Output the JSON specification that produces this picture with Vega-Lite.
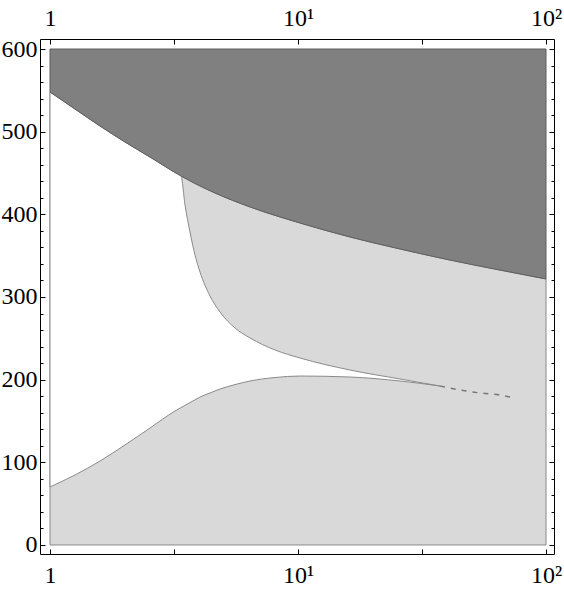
{
  "$schema": "https://vega.github.io/schema/vega-lite/v6.json",
  "width": 514,
  "height": 515,
  "autosize": "none",
  "padding": {"left": 40, "top": 39, "right": 10, "bottom": 41},
  "background": "white",
  "config": {
    "view": {"stroke": "black", "strokeWidth": 1},
    "axis": {
      "domain": false,
      "grid": false,
      "tickColor": "black",
      "tickWidth": 1,
      "tickSize": -5,
      "labelFont": "Liberation Serif",
      "labelFontSize": 24,
      "labelColor": "black",
      "labelFlush": false,
      "labelOverlap": false,
      "labelBound": false,
      "title": null
    }
  },
  "datasets": {
    "dark": [
      {"x": 1, "y": 548.0},
      {"x": 1.261, "y": 527.4},
      {"x": 1.591, "y": 506.8},
      {"x": 2.006, "y": 487.5},
      {"x": 2.53, "y": 469.3},
      {"x": 3.376, "y": 446.3},
      {"x": 4.627, "y": 425.8},
      {"x": 6.408, "y": 408.9},
      {"x": 10.19, "y": 389.5},
      {"x": 16.19, "y": 372.6},
      {"x": 25.76, "y": 358.1},
      {"x": 40.98, "y": 344.7},
      {"x": 65.19, "y": 332.6},
      {"x": 100, "y": 321.8}
    ],
    "white": [
      {"x": 1, "lo": 70.2, "hi": 548.0},
      {"x": 1.261, "lo": 84.7, "hi": 527.4},
      {"x": 1.591, "lo": 101.6, "hi": 506.8},
      {"x": 2.006, "lo": 121.0, "hi": 487.5},
      {"x": 2.53, "lo": 141.5, "hi": 469.3},
      {"x": 3.192, "lo": 162.1, "hi": 450.7},
      {"x": 3.376, "lo": 166.2, "hi": 446.3},
      {"x": 3.503, "lo": 169.0, "hi": 411.3},
      {"x": 3.668, "lo": 172.3, "hi": 378.6},
      {"x": 3.843, "lo": 175.6, "hi": 350.8},
      {"x": 4.026, "lo": 179.0, "hi": 330.2},
      {"x": 4.418, "lo": 183.9, "hi": 301.2},
      {"x": 4.849, "lo": 188.7, "hi": 281.8},
      {"x": 5.571, "lo": 194.0, "hi": 262.5},
      {"x": 6.408, "lo": 198.4, "hi": 250.4},
      {"x": 8.08, "lo": 202.6, "hi": 235.9},
      {"x": 10.19, "lo": 204.4, "hi": 226.2},
      {"x": 16.19, "lo": 203.2, "hi": 211.7},
      {"x": 25.76, "lo": 198.4, "hi": 200.8},
      {"x": 37.37, "lo": 192.3, "hi": 192.3}
    ],
    "tail": [
      {"x": 37.37, "y": 192.3},
      {"x": 45.0, "y": 187.5},
      {"x": 54.2, "y": 183.9},
      {"x": 65.19, "y": 181.4},
      {"x": 75.0, "y": 177.8}
    ]
  },
  "resolve": {"axis": {"x": "independent", "y": "independent"}},
  "layer": [
    {
      "data": {"name": "dark"},
      "mark": {"type": "area", "fill": "#d9d9d9", "stroke": "#8a8a8a", "strokeWidth": 1, "interpolate": "monotone"},
      "encoding": {
        "x": {
          "field": "x", "type": "quantitative",
          "scale": {"type": "log", "domain": [0.9113, 107.7], "nice": false},
          "axis": {"orient": "bottom", "values": [1, 3.1623, 10, 31.623, 100], "labelPadding": 14,
            "labelExpr": "datum.value == 1 ? '1' : datum.value == 10 ? '10¹' : datum.value == 100 ? '10²' : ''"}
        },
        "y": {
          "field": "y", "type": "quantitative",
          "scale": {"domain": [-10.9, 612.1], "nice": false, "zero": false},
          "axis": {"orient": "left", "values": [0, 100, 200, 300, 400, 500, 600], "labelPadding": 8}
        },
        "y2": {"datum": 0}
      }
    },
    {
      "data": {"name": "white"},
      "mark": {"type": "area", "fill": "white", "stroke": "#8a8a8a", "strokeWidth": 1, "interpolate": "monotone"},
      "encoding": {
        "x": {
          "field": "x", "type": "quantitative",
          "axis": {"orient": "top", "values": [1, 3.1623, 10, 31.623, 100], "labelPadding": 14,
            "labelExpr": "datum.value == 1 ? '1' : datum.value == 10 ? '10¹' : datum.value == 100 ? '10²' : ''"}
        },
        "y": {
          "field": "lo", "type": "quantitative",
          "axis": {"orient": "right", "values": [0, 100, 200, 300, 400, 500, 600], "labels": false}
        },
        "y2": {"field": "hi"}
      }
    },
    {
      "data": {"name": "dark"},
      "mark": {"type": "area", "fill": "#808080", "stroke": "#5e5e5e", "strokeWidth": 1, "interpolate": "monotone"},
      "encoding": {
        "x": {"field": "x", "type": "quantitative", "axis": null},
        "y": {
          "field": "y", "type": "quantitative",
          "axis": {"orient": "left", "tickSize": -3, "labels": false,
            "values": [20, 40, 60, 80, 120, 140, 160, 180, 220, 240, 260, 280, 320, 340, 360, 380, 420, 440, 460, 480, 520, 540, 560, 580]}
        },
        "y2": {"datum": 600}
      }
    },
    {
      "data": {"name": "tail"},
      "mark": {"type": "line", "stroke": "#777777", "strokeWidth": 1.5, "strokeDash": [5, 6], "interpolate": "monotone"},
      "encoding": {
        "x": {"field": "x", "type": "quantitative", "axis": null},
        "y": {
          "field": "y", "type": "quantitative",
          "axis": {"orient": "right", "tickSize": -3, "labels": false,
            "values": [20, 40, 60, 80, 120, 140, 160, 180, 220, 240, 260, 280, 320, 340, 360, 380, 420, 440, 460, 480, 520, 540, 560, 580]}
        }
      }
    }
  ]
}
